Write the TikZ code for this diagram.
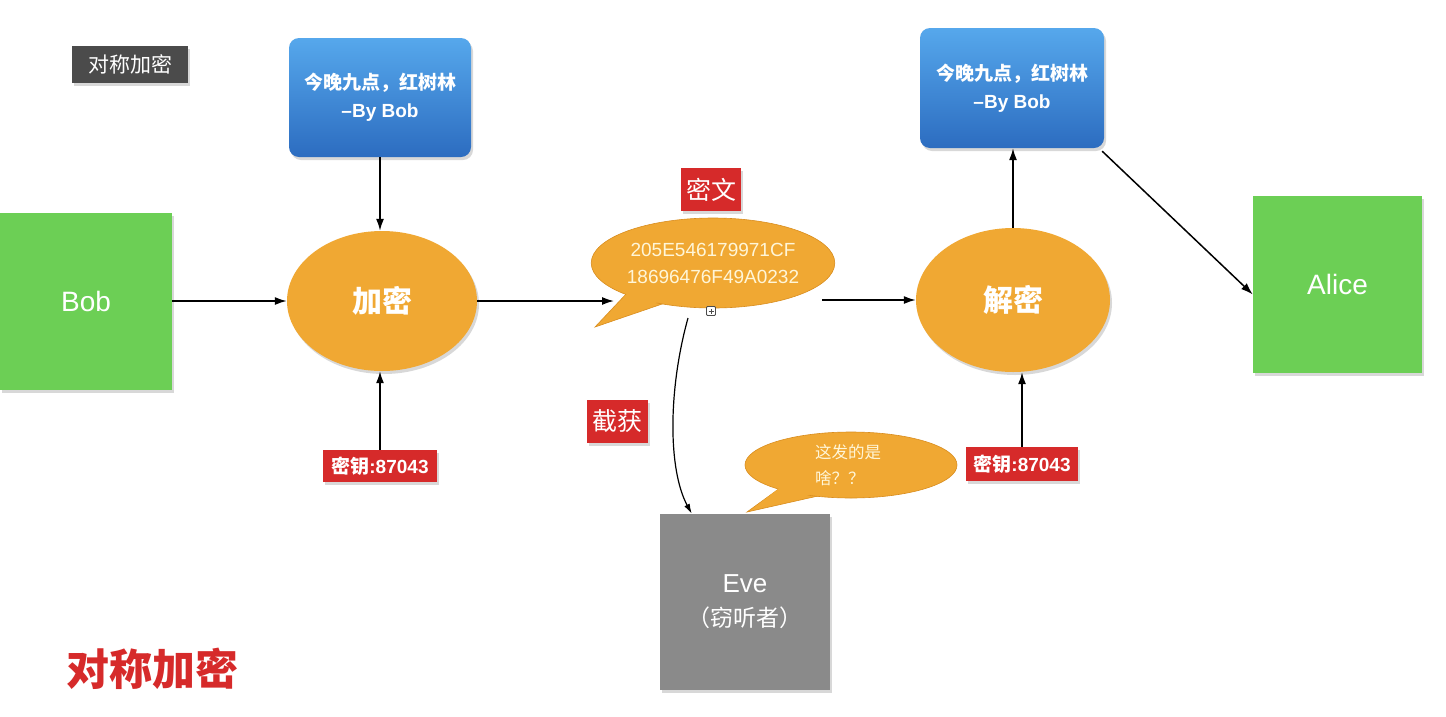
\documentclass[tikz,border=0pt]{standalone}
\usepackage{fontspec}
\setmainfont{Liberation Sans}
\newfontfamily\cjk{Noto Sans CJK SC}
\usetikzlibrary{arrows.meta,shapes.geometric,shadows}
\definecolor{bgreen}{HTML}{6CCF55}
\definecolor{borange}{HTML}{F0A833}
\definecolor{oedge}{HTML}{D98D1E}
\definecolor{bred}{HTML}{D62A2A}
\definecolor{btop}{HTML}{56A8EC}
\definecolor{bbot}{HTML}{2C6CC0}
\definecolor{dgray}{HTML}{4B4B4B}
\definecolor{egray}{HTML}{8A8A8A}
\definecolor{cream}{HTML}{FFF6D8}
\tikzset{
  arr/.style={line width=1.5pt,-{Latex[length=12pt,width=8pt]}},
  shad/.style={drop shadow={shadow xshift=2pt,shadow yshift=-3pt,opacity=0.3}},
  greenbox/.style={fill=bgreen,inner sep=0pt,text=white,shad,font=\fontsize{28}{32}\selectfont},
  bluebox/.style={rounded corners=10pt,top color=btop,bottom color=bbot,inner sep=0pt,text=white,shad,align=center,font=\bfseries\fontsize{19}{28}\selectfont},
  oval/.style={ellipse,fill=borange,inner sep=0pt,text=white,shad,font=\cjk\bfseries\fontsize{30}{34}\selectfont},
  redtag/.style={fill=bred,inner sep=0pt,text=white,shad},
  bubble/.style={ellipse,fill=borange,draw=oedge,line width=0.6pt,inner sep=0pt,text=cream},
}
\begin{document}
\begin{tikzpicture}[x=1pt,y=-1pt]
\useasboundingbox[fill=white] (0,0) rectangle (1446,716);

% top-left label
\node[fill=dgray,text=white,inner sep=0pt,minimum width=116pt,minimum height=37pt,shad,font=\cjk\fontsize{21}{24}\selectfont] (tl) at (130,64.5) {对称加密};

% blue boxes
\node[bluebox,minimum width=182pt,minimum height=119pt] (plain1) at (380,97.5) {{\cjk 今晚九点，红树林}\\–By Bob};
\node[bluebox,minimum width=184pt,minimum height=120pt] (plain2) at (1012,88) {{\cjk 今晚九点，红树林}\\–By Bob};

% green boxes
\node[greenbox,minimum width=172pt,minimum height=177pt] (bob) at (86,301.5) {Bob};
\node[greenbox,minimum width=169pt,minimum height=177pt] (alice) at (1337.5,284.5) {Alice};

% ovals
\node[oval,minimum width=190pt,minimum height=140pt] (enc) at (382,301) {加密};
\node[oval,minimum width=194pt,minimum height=144pt] (dec) at (1013,300) {解密};

% cipher bubble
\fill[borange,draw=oedge,line width=0.6pt] (628,292) -- (595,327) -- (668,302) -- cycle;
\node[bubble,minimum width=236pt,minimum height=90pt,align=center,font=\fontsize{19}{27}\selectfont] (cipher) at (713,263) {205E546179971CF\\18696476F49A0232};
\fill[borange] (630,290) -- (605,320) -- (664,300) -- cycle;
\node[redtag,minimum width=60pt,minimum height=43pt,font=\cjk\fontsize{25}{28}\selectfont] (mw) at (711,189.5) {密文};
% small icon
\node[draw=black!70,fill=white,line width=0.8pt,minimum size=9pt,inner sep=0pt,rounded corners=1pt] (icon) at (711,311) {};
\draw[line width=0.7pt,black!70] ([xshift=-2.5pt]icon.center) -- ([xshift=2.5pt]icon.center)
  ([yshift=-2.5pt]icon.center) -- ([yshift=2.5pt]icon.center);

% keys
\node[redtag,minimum width=114pt,minimum height=32pt,font=\bfseries\fontsize{19}{22}\selectfont] (key1) at (380,466) {{\cjk 密钥}:87043};
\node[redtag,minimum width=112pt,minimum height=34pt,font=\bfseries\fontsize{19}{22}\selectfont] (key2) at (1022,464) {{\cjk 密钥}:87043};

% intercept
\node[redtag,minimum width=61pt,minimum height=43pt,font=\cjk\fontsize{25}{28}\selectfont] (jh) at (617.5,421.5) {截获};

% Eve
\node[fill=egray,inner sep=0pt,minimum width=170pt,minimum height=176pt,text=white,shad,align=center,font=\fontsize{26}{34}\selectfont] (eve) at (745,602) {Eve\\{\cjk\fontsize{23}{34}\selectfont （窃听者）}};

% Eve bubble
\fill[borange,draw=oedge,line width=0.6pt] (780,488) -- (747,512) -- (818,496) -- cycle;
\node[bubble,minimum width=212pt,minimum height=66pt] (evb) at (851,465) {};
\fill[borange] (782,486) -- (755,507) -- (815,494) -- cycle;
\node[text=cream,align=left,font=\cjk\fontsize{16.5}{26}\selectfont] (evt) at (848,465) {这发的是\\啥？？};

% bottom title
\node[text=bred,font=\cjk\bfseries\fontsize{43}{48}\selectfont,inner sep=0pt] (title) at (152,669) {对称加密};

% connectors
\coordinate (cin) at (614,300);
\coordinate (cout) at (822,300);
\coordinate (tap) at (688,318);
\draw[arr] (bob.east |- enc) -- (enc.west);
\draw[arr] (plain1.south) -- (plain1.south |- enc.north);
\draw[arr] (key1.north) -- (key1.north |- enc.south);
\draw[arr] (enc.east) -- (cin |- enc.east);
\draw[arr] (cout) -- (dec.west);
\draw[arr] (dec.north) -- (dec.north |- plain2.south);
\draw[arr] (key2.north) -- (key2.north |- dec.south);
\draw[arr] ([xshift=-2pt,yshift=-3pt]plain2.south east) -- ([yshift=-10pt]alice.west);
\draw[line width=1.2pt,-{Latex[length=10pt,width=6pt]}] (tap) .. controls (668,390) and (668,470) .. ([xshift=32pt]eve.north west);
\end{tikzpicture}
\end{document}
